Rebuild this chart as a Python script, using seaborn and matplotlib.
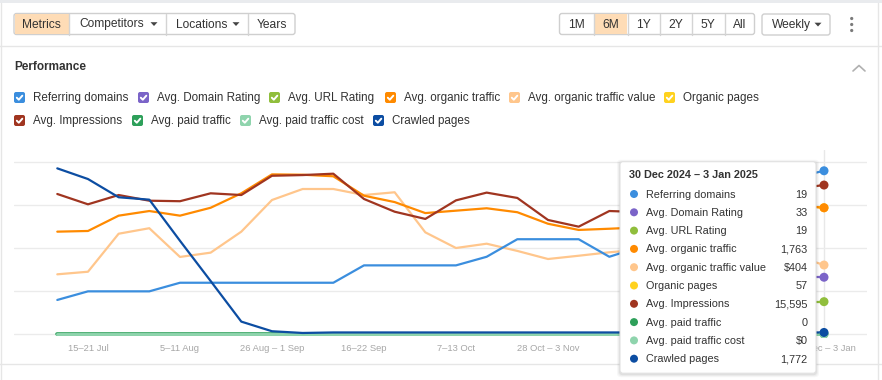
import pandas as pd
import seaborn as sns
import matplotlib.pyplot as plt
from matplotlib.patches import FancyBboxPatch, Rectangle, Polygon, Circle

# --- chart data: each metric is drawn on its own 0-100 scale ---
week_labels = [
    "8–14 Jul", "15–21 Jul", "22–28 Jul", "29 Jul – 4 Aug", "5–11 Aug", "12–18 Aug",
    "19–25 Aug", "26 Aug – 1 Sep", "2–8 Sep", "9–15 Sep", "16–22 Sep", "23–29 Sep",
    "30 Sep – 6 Oct", "7–13 Oct", "14–20 Oct", "21–27 Oct", "28 Oct – 3 Nov", "4–10 Nov",
    "11–17 Nov", "18–24 Nov", "25 Nov – 1 Dec", "2–8 Dec", "9–15 Dec", "16–22 Dec",
    "23–29 Dec", "30 Dec – 3 Jan",
]

referring_domains = [19.8, 24.8, 24.8, 24.8, 29.8, 29.8, 29.8, 29.8, 29.8, 29.8, 39.9, 39.9, 39.9,
                     39.9, 44.9, 55.1, 55.1, 55.1, 44.9, 50.6, 54.7, 60.5, 69.2, 80.8, 90.7, 94.9]
domain_rating = [None] * 24 + [33.0, 33.0]
url_rating = [None] * 24 + [18.8, 18.8]
organic_traffic = [59.5, 59.9, 68.8, 71.5, 68.8, 73.4, 81.8, 92.8, 92.6, 91.7, 80.4, 76.7, 70.3,
                   71.7, 73.1, 70.8, 64.1, 60.5, 61.2, 62.0, 64.0, 66.3, 69.2, 72.1, 75.0, 73.4]
traffic_value = [34.7, 36.2, 58.3, 61.5, 44.8, 47.3, 59.5, 77.9, 84.3, 84.3, 80.8, 82.4, 59.1,
                 50.0, 52.5, 48.3, 43.6, 45.5, 47.5, 49.1, 48.8, 50.0, 48.8, 47.7, 45.9, 40.1]
organic_pages = [None] * 24 + [75.0, 73.4]
impressions = [81.4, 75.4, 80.8, 77.5, 77.2, 81.8, 80.8, 92.0, 92.4, 93.2, 78.5, 71.1, 66.9,
               77.7, 82.2, 79.1, 66.3, 62.4, 71.5, 70.9, 73.3, 76.2, 79.1, 81.4, 84.3, 86.6]
paid_traffic = [0.0] * 26
paid_traffic_cost = [0.0] * 26
crawled_pages = [96.3, 90.1, 79.5, 78.1, 54.2, 30.8, 7.2, 1.6, 0.6, 0.9, 0.9, 0.9, 0.9,
                 0.9, 0.9, 0.9, 0.9, 0.9, 0.9, 0.9, 0.9, 0.9, 0.9, 0.9, 0.9, 0.9]

metric_names = ["Referring domains", "Avg. Domain Rating", "Avg. URL Rating", "Avg. organic traffic",
                "Avg. organic traffic value", "Organic pages", "Avg. Impressions", "Avg. paid traffic",
                "Avg. paid traffic cost", "Crawled pages"]
metric_colors = ["#3b8ede", "#7b64c8", "#90be3c", "#ff8a00", "#ffc68c", "#ffd21f",
                 "#a03520", "#2ea05a", "#8fd4ad", "#0c4da2"]
tooltip_title = "30 Dec 2024 – 3 Jan 2025"
tooltip_values = ["19", "33", "19", "1,763", "$404", "57", "15,595", "0", "$0", "1,772"]

series = [referring_domains, domain_rating, url_rating, organic_traffic, traffic_value,
          organic_pages, impressions, paid_traffic, paid_traffic_cost, crawled_pages]
rows = []
for name, vals in zip(metric_names, series):
    for i, v in enumerate(vals):
        if v is not None:
            rows.append({"week": i, "metric": name, "value": v})
df = pd.DataFrame(rows)
palette = dict(zip(metric_names, metric_colors))

sns.set_style("white")
plt.rcParams["font.family"] = ["Liberation Sans", "DejaVu Sans"]

W, H = 882, 380
TXT = "#333333"
fig = plt.figure(figsize=(W / 100, H / 100), dpi=100)


def px_box(x0, y0, x1, y1):
    return [x0 / W, 1 - y1 / H, (x1 - x0) / W, (y1 - y0) / H]


def fs(px):
    return px * 0.72


# background / UI layer
bg = fig.add_axes([0, 0, 1, 1], zorder=0)
bg.set_xlim(0, W)
bg.set_ylim(H, 0)
bg.axis("off")
bg.add_patch(Rectangle((0, 0), W, 3, color="#e9ebee", lw=0))
bg.plot([0, W], [45.5, 45.5], color="#e6e6e6", lw=1)
bg.plot([0, W], [363.5, 363.5], color="#e6e6e6", lw=1)
bg.plot([0.8, 0.8], [3, H], color="#e6e6e6", lw=1)
bg.plot([877.5, 877.5], [3, H], color="#e6e6e6", lw=1)


def button_group(segs, y0, y1):
    x_start, x_end = segs[0][0], segs[-1][1]
    bg.add_patch(FancyBboxPatch((x_start, y0), x_end - x_start, y1 - y0,
                                boxstyle="round,pad=0,rounding_size=2.5",
                                fc="white", ec="#cfcfcf", lw=1, zorder=1))
    for x0, x1, label, active, dropdown in segs:
        if active:
            bg.add_patch(Rectangle((x0 + 0.5, y0 + 0.5), x1 - x0 - 1, y1 - y0 - 1,
                                   fc="#fedcb6", ec="none", zorder=1.5))
        if x0 != x_start:
            bg.plot([x0, x0], [y0, y1], color="#d4d4d4", lw=1, zorder=2)
        if dropdown:
            bg.text(x0 + 10, (y0 + y1) / 2 + 0.5, label, fontsize=fs(12), color=TXT,
                    ha="left", va="center", zorder=3)
            ax_ = x1 - 12
            cy = (y0 + y1) / 2
            bg.add_patch(Polygon([[ax_ - 3.5, cy - 1.8], [ax_ + 3.5, cy - 1.8], [ax_, cy + 2]],
                                 color="#444444", lw=0, zorder=3))
        else:
            bg.text((x0 + x1) / 2, (y0 + y1) / 2 + 0.5, label, fontsize=fs(12), color=TXT,
                    ha="center", va="center", zorder=3)


button_group([(14, 69, "Metrics", True, False), (69, 166, "Competitors", False, True),
              (166, 248, "Locations", False, True), (248, 295, "Years", False, False)], 13.5, 34.5)
button_group([(559.5, 593.5, "1M", False, False), (593.5, 627.5, "6M", True, False),
              (627.5, 659.5, "1Y", False, False), (659.5, 691.5, "2Y", False, False),
              (691.5, 724.5, "5Y", False, False), (724.5, 754.5, "All", False, False)], 13.5, 34.5)
button_group([(762, 830, "Weekly", False, True)], 14, 35)
for yy in (18.5, 24.5, 30.5):
    bg.add_patch(Circle((851.7, yy), 1.6, color="#7a7a7a", lw=0))

bg.text(14, 67.5, "Performance", fontsize=fs(11.7), fontweight="bold", color=TXT, va="center")
bg.plot([853, 859, 865], [71, 65.5, 71], color="#b0b0b0", lw=1.2, solid_capstyle="round")

# legend checkboxes
legend_pos = [(14, 97.5), (138, 97.5), (269, 97.5), (385, 97.5), (509, 97.5), (664, 97.5),
              (14, 120.5), (132, 120.5), (240, 120.5), (373, 120.5)]
for (lx, ly), name, col in zip(legend_pos, metric_names, metric_colors):
    bg.add_patch(FancyBboxPatch((lx, ly - 5.5), 11, 11, boxstyle="round,pad=0,rounding_size=2",
                                fc=col, ec="none"))
    bg.plot([lx + 2.8, lx + 4.8, lx + 8.3], [ly + 0.2, ly + 2.2, ly - 1.8], color="white",
            lw=1.4, solid_capstyle="round", solid_joinstyle="round")
    bg.text(lx + 19, ly + 0.5, name, fontsize=fs(11.6), color=TXT, va="center", ha="left")

# --- chart ---
ax = fig.add_axes(px_box(14, 150, 867, 338), zorder=2)
ax.patch.set_alpha(0)
ax.set_xlim(-1.412, 26.402)
ax.set_ylim(-(338 - 334) / 1.72, (334 - 150) / 1.72)
ax.set_yticks([0, 25, 50, 75, 100])
ax.set_yticklabels([])
ax.grid(axis="y", color="#ebebeb", lw=1)
ax.axvline(25, color="#e8e8e8", lw=1, zorder=0)
for s in ax.spines.values():
    s.set_visible(False)

draw_order = ["Avg. paid traffic", "Avg. paid traffic cost", "Organic pages", "Avg. URL Rating",
              "Avg. Domain Rating", "Avg. organic traffic value", "Avg. organic traffic",
              "Avg. Impressions", "Referring domains", "Crawled pages"]
widths = {"Avg. paid traffic": 2.6, "Avg. paid traffic cost": 2.1}
for name in draw_order:
    sub = df[df["metric"] == name]
    sns.lineplot(data=sub, x="week", y="value", color=palette[name], lw=widths.get(name, 1.6),
                 estimator=None, sort=False, legend=False, ax=ax)
last = df[df["week"] == 25].set_index("metric").loc[draw_order].reset_index()
sns.scatterplot(data=last, x="week", y="value", hue="metric", hue_order=draw_order,
                palette=palette, s=42, edgecolor="none", legend=False, ax=ax, zorder=5)

# labels under the tooltip are not visible in the original, only every third week is labelled
tick_idx = [1, 4, 7, 10, 13, 16, 25]
ax.set_xticks(tick_idx)
ax.set_xticklabels([week_labels[i] for i in tick_idx], fontsize=fs(9.4), color="#a6a6a6")
ax.tick_params(axis="x", length=0, pad=4)
ax.tick_params(axis="y", length=0)
ax.set_xlabel("")
ax.set_ylabel("")

# --- tooltip ---
top = fig.add_axes([0, 0, 1, 1], zorder=3)
top.patch.set_alpha(0)
top.set_xlim(0, W)
top.set_ylim(H, 0)
top.axis("off")
for k, a in ((3, 0.03), (2, 0.04), (1, 0.06)):
    top.add_patch(FancyBboxPatch((620 - k, 161.7 - k + 1), 196 + 2 * k, 211.5 + 2 * k,
                                 boxstyle="round,pad=0,rounding_size=4", fc="black",
                                 ec="none", alpha=a))
top.add_patch(FancyBboxPatch((620, 161.7), 196, 211.5, boxstyle="round,pad=0,rounding_size=3",
                             fc="white", ec="#e2e2e2", lw=0.8))
top.text(629, 175.5, tooltip_title, fontsize=fs(10.9), fontweight="bold", color=TXT,
         va="center", ha="left")
for i, (name, col, val) in enumerate(zip(metric_names, metric_colors, tooltip_values)):
    ty = 194 + i * 18.3
    top.add_patch(Circle((634, ty), 4, color=col, lw=0))
    top.text(645.5, ty + 0.5, name, fontsize=fs(10.9), color=TXT, va="center", ha="left")
    top.text(807.5, ty + 0.5, val, fontsize=fs(10.9), color=TXT, va="center", ha="right")

fig.savefig("out.png", dpi=100)
